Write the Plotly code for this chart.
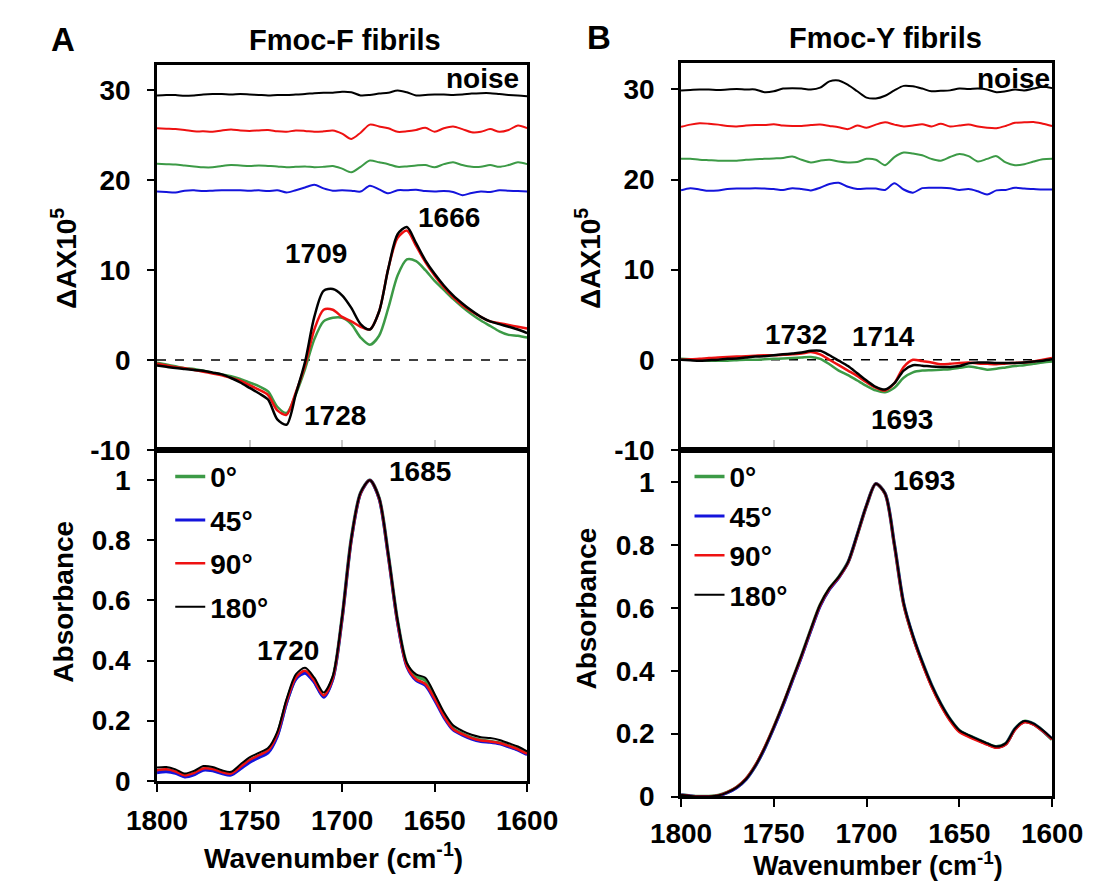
import plotly.graph_objects as go

# ---------------- data ----------------
wn = [1800, 1795, 1790, 1785, 1780, 1775, 1770, 1765, 1760, 1755, 1750,
      1745, 1740, 1735, 1730, 1725, 1720, 1715, 1710, 1705, 1700,
      1695, 1690, 1685, 1680, 1675, 1670, 1665, 1660, 1655, 1650,
      1645, 1640, 1635, 1630, 1625, 1620, 1615, 1610, 1605, 1600]

angles = ["0°", "45°", "90°", "180°"]
colors = ["#3c9a46", "#1414dc", "#ee1111", "#000000"]

# ---- Fmoc-F VCD (ΔA x 10^5) ----
F_vcd_0 = [-0.3, -0.5, -0.7, -0.9, -1.0, -1.2, -1.4, -1.6, -1.8, -2.1, -2.5,
           -2.9, -3.5, -5.2, -5.9, -3.8, -1.0, 2.3, 4.3, 4.7, 4.7,
           4.0, 2.5, 1.7, 2.7, 5.8, 9.4, 11.2, 11.0, 10.0, 8.8,
           7.8, 6.8, 5.9, 5.1, 4.4, 3.8, 3.2, 2.8, 2.7, 2.5]
F_vcd_90 = [-0.4, -0.6, -0.8, -0.9, -1.1, -1.3, -1.5, -1.7, -2.0, -2.3, -2.8,
            -3.3, -3.9, -5.6, -6.1, -3.6, -0.6, 3.4, 5.6, 5.6, 4.8,
            4.3, 3.7, 3.4, 5.4, 10.2, 13.6, 14.4, 12.7, 10.9, 9.4,
            8.1, 7.0, 6.1, 5.4, 4.8, 4.3, 4.1, 3.9, 3.7, 3.5]
F_vcd_180 = [-0.6, -0.75, -0.9, -1.0, -1.1, -1.2, -1.4, -1.6, -2.0, -2.5, -3.1,
             -3.7, -4.4, -6.6, -7.2, -3.8, -0.2, 4.8, 7.7, 7.9, 7.2,
             5.8, 4.0, 3.4, 5.4, 10.2, 14.0, 14.8, 13.0, 11.1, 9.6,
             8.3, 7.2, 6.3, 5.5, 4.8, 4.3, 4.0, 3.7, 3.4, 3.0]

F_noise_45 = [18.75, 18.7, 18.65, 18.85, 18.9, 18.8, 18.85, 18.9, 18.9, 18.9, 18.85,
              18.9, 18.8, 18.9, 18.65, 18.9, 19.2, 19.5, 19.1, 18.85, 18.9,
              18.85, 18.75, 19.4, 19.0, 18.55, 18.9, 18.9, 18.95, 18.8, 18.75,
              18.8, 18.7, 18.35, 18.6, 18.75, 18.7, 18.9, 18.85, 18.8, 18.75]
F_noise_0 = [21.85, 21.8, 21.75, 21.65, 21.55, 21.45, 21.45, 21.6, 21.7, 21.65, 21.6,
             21.65, 21.6, 21.55, 21.45, 21.5, 21.55, 21.45, 21.5, 21.6, 21.3,
             20.9, 21.5, 22.2, 22.0, 21.8, 21.5, 21.55, 21.65, 21.7, 21.45,
             21.8, 22.0, 21.7, 21.5, 21.5, 21.7, 21.5, 21.7, 22.0, 21.8]
F_noise_90 = [25.8, 25.75, 25.7, 25.6, 25.45, 25.45, 25.4, 25.55, 25.65, 25.55, 25.5,
              25.55, 25.6, 25.45, 25.4, 25.55, 25.5, 25.4, 25.45, 25.55, 25.2,
              24.6, 25.3, 26.2, 26.0, 25.8, 25.4, 25.45, 25.6, 25.85, 25.4,
              25.8, 26.0, 25.7, 25.35, 25.4, 25.7, 25.4, 25.6, 26.1, 25.8]
F_noise_180 = [29.45, 29.5, 29.5, 29.4, 29.45, 29.55, 29.6, 29.6, 29.55, 29.6, 29.55,
               29.5, 29.45, 29.5, 29.5, 29.55, 29.6, 29.7, 29.75, 29.75, 29.85,
               29.8, 29.45, 29.5, 29.65, 29.75, 30.0, 29.8, 29.45, 29.5, 29.55,
               29.55, 29.5, 29.55, 29.65, 29.7, 29.7, 29.6, 29.5, 29.45, 29.35]

# ---- Fmoc-F absorbance ----
F_abs_180 = [0.044, 0.046, 0.038, 0.024, 0.033, 0.049, 0.046, 0.035, 0.030, 0.054, 0.078,
             0.093, 0.109, 0.163, 0.272, 0.354, 0.376, 0.343, 0.294, 0.349, 0.545,
             0.806, 0.959, 1.000, 0.942, 0.752, 0.534, 0.392, 0.354, 0.343, 0.289,
             0.229, 0.185, 0.166, 0.153, 0.145, 0.142, 0.136, 0.125, 0.114, 0.098]
F_abs_90 = [0.035, 0.038, 0.031, 0.018, 0.026, 0.041, 0.039, 0.029, 0.024, 0.046, 0.069,
            0.085, 0.101, 0.156, 0.264, 0.344, 0.366, 0.333, 0.284, 0.342, 0.540,
            0.803, 0.957, 1.000, 0.940, 0.748, 0.527, 0.382, 0.338, 0.322, 0.273,
            0.215, 0.172, 0.155, 0.142, 0.134, 0.131, 0.126, 0.116, 0.105, 0.090]
F_abs_0 = [0.031, 0.034, 0.028, 0.016, 0.023, 0.038, 0.036, 0.027, 0.022, 0.043, 0.066,
           0.082, 0.098, 0.153, 0.262, 0.341, 0.362, 0.331, 0.282, 0.341, 0.541,
           0.805, 0.958, 1.000, 0.941, 0.750, 0.530, 0.388, 0.348, 0.335, 0.280,
           0.218, 0.174, 0.156, 0.143, 0.135, 0.131, 0.126, 0.116, 0.105, 0.090]
F_abs_45 = [0.027, 0.030, 0.025, 0.013, 0.020, 0.035, 0.033, 0.024, 0.019, 0.039, 0.061,
            0.077, 0.093, 0.148, 0.258, 0.338, 0.358, 0.327, 0.278, 0.338, 0.538,
            0.802, 0.956, 1.000, 0.939, 0.747, 0.526, 0.380, 0.334, 0.317, 0.268,
            0.211, 0.169, 0.152, 0.139, 0.131, 0.128, 0.123, 0.113, 0.102, 0.087]

# ---- Fmoc-Y VCD ----
Y_vcd_0 = [0.1, 0.05, 0.0, -0.1, -0.1, -0.1, -0.05, 0.0, 0.0, 0.05, 0.1,
           0.15, 0.2, 0.25, 0.3, 0.1, -0.5, -1.2, -1.7, -2.3, -2.9,
           -3.4, -3.6, -3.1, -2.0, -1.4, -1.2, -1.15, -1.1, -1.05, -0.9,
           -0.75, -0.9, -1.1, -1.0, -0.85, -0.7, -0.6, -0.45, -0.3, -0.2]
Y_vcd_90 = [0.0, 0.05, 0.1, 0.2, 0.25, 0.3, 0.35, 0.4, 0.45, 0.5, 0.5,
            0.55, 0.6, 0.7, 0.85, 0.6, 0.0, -0.6, -1.2, -1.8, -2.5,
            -3.1, -3.4, -2.6, -0.8, 0.0, -0.15, -0.3, -0.5, -0.45, -0.35,
            -0.3, -0.4, -0.45, -0.5, -0.4, -0.35, -0.3, -0.2, 0.0, 0.2]
Y_vcd_180 = [0.0, -0.05, -0.1, -0.05, 0.0, 0.1, 0.15, 0.25, 0.35, 0.4, 0.5,
             0.6, 0.7, 0.8, 1.0, 1.0, 0.5, -0.1, -0.7, -1.5, -2.3,
             -3.0, -3.3, -2.6, -1.2, -0.6, -0.65, -0.75, -0.8, -0.8, -0.7,
             -0.4, -0.3, -0.3, -0.35, -0.35, -0.35, -0.3, -0.2, -0.1, 0.05]

Y_noise_45 = [18.8, 19.05, 18.9, 18.75, 18.8, 18.95, 19.0, 19.0, 19.05, 19.0, 18.95,
              18.85, 19.05, 18.95, 18.8, 19.1, 19.5, 19.65, 19.2, 18.95, 19.0,
              19.0, 18.85, 19.6, 18.9, 18.55, 19.05, 19.1, 19.1, 19.05, 18.85,
              18.95, 18.7, 18.35, 18.8, 18.85, 19.1, 19.0, 18.95, 18.9, 18.9]
Y_noise_0 = [22.3, 22.3, 22.2, 22.15, 22.1, 22.1, 22.1, 22.2, 22.25, 22.3, 22.35,
             22.4, 22.55, 22.2, 21.9, 22.1, 22.2, 22.0, 21.9, 21.95, 22.3,
             22.2, 21.6, 22.5, 23.0, 22.9, 22.7, 22.3, 22.1, 22.5, 22.85,
             22.6, 22.0, 22.3, 22.6, 21.9, 21.6, 21.7, 22.0, 22.25, 22.3]
Y_noise_90 = [25.85, 26.1, 26.25, 26.2, 26.1, 25.95, 25.9, 26.0, 26.05, 26.05, 26.15,
              26.0, 25.95, 25.95, 26.05, 26.1, 25.95, 25.8, 25.6, 26.0, 25.75,
              26.1, 26.35, 26.1, 25.9, 26.0, 26.15, 25.9, 26.2, 25.9, 26.0,
              26.1, 25.9, 25.75, 25.7, 25.95, 26.3, 26.35, 26.4, 26.2, 25.95]
Y_noise_180 = [29.9, 29.95, 30.0, 30.0, 29.95, 30.0, 30.05, 30.0, 30.0, 29.7, 29.8,
               30.1, 30.15, 30.1, 30.0, 30.2, 30.9, 31.0, 30.5, 29.8, 29.1,
               29.0, 29.3, 29.9, 30.4, 30.35, 30.1, 29.8, 29.85, 29.9, 30.1,
               30.05, 30.1, 30.0, 29.7, 29.8, 30.0, 29.9, 30.1, 30.3, 30.15]

# ---- Fmoc-Y absorbance ----
Y_abs_180 = [0.005, 0.002, 0.000, 0.000, 0.003, 0.013, 0.029, 0.055, 0.097, 0.154, 0.221,
             0.294, 0.372, 0.450, 0.533, 0.611, 0.663, 0.699, 0.746, 0.834, 0.927,
             0.995, 0.964, 0.803, 0.616, 0.512, 0.429, 0.356, 0.296, 0.247, 0.211,
             0.195, 0.182, 0.169, 0.159, 0.169, 0.216, 0.240, 0.232, 0.211, 0.185]
Y_abs_90 = [0.005, 0.002, 0.000, 0.000, 0.003, 0.014, 0.030, 0.057, 0.099, 0.156, 0.222,
            0.294, 0.371, 0.448, 0.531, 0.609, 0.661, 0.697, 0.744, 0.832, 0.926,
            0.995, 0.963, 0.800, 0.611, 0.506, 0.423, 0.350, 0.290, 0.241, 0.205,
            0.190, 0.177, 0.165, 0.155, 0.165, 0.212, 0.236, 0.229, 0.208, 0.182]
Y_abs_45 = [0.005, 0.002, 0.000, 0.000, 0.002, 0.012, 0.028, 0.054, 0.096, 0.152, 0.218,
            0.290, 0.368, 0.445, 0.528, 0.606, 0.659, 0.696, 0.744, 0.833, 0.926,
            0.995, 0.964, 0.802, 0.614, 0.510, 0.427, 0.354, 0.294, 0.245, 0.209,
            0.193, 0.180, 0.167, 0.157, 0.167, 0.214, 0.238, 0.230, 0.209, 0.183]
Y_abs_0 = [0.005, 0.002, 0.000, 0.000, 0.003, 0.013, 0.029, 0.055, 0.097, 0.153, 0.220,
           0.292, 0.370, 0.448, 0.531, 0.609, 0.661, 0.698, 0.745, 0.833, 0.926,
           0.995, 0.964, 0.802, 0.614, 0.510, 0.428, 0.355, 0.295, 0.246, 0.210,
           0.194, 0.181, 0.168, 0.158, 0.168, 0.215, 0.239, 0.231, 0.209, 0.181]

# peak labels: (text, x, y)
F_top_labels = [("1666", 1642, 15.9), ("1709", 1714, 11.9), ("1728", 1704, -6.2)]
F_bot_labels = [("1685", 1658, 1.03), ("1720", 1729, 0.435)]
Y_top_labels = [("1732", 1738, 2.8), ("1714", 1691, 2.6), ("1693", 1681, -6.6)]
Y_bot_labels = [("1693", 1669, 1.005)]

# ---------------- figure ----------------
W, H = 1110, 886
FONT = "Liberation Sans, Arial, sans-serif"
FS = 28

def px_x(p):
    return p / W

def px_y(p):
    return 1 - p / H

fig = go.Figure()

def add_line(x, y, color, width, xa, ya, name=None, legend=None, show=False, group=None):
    fig.add_trace(go.Scatter(
        x=x, y=y, mode="lines", name=name,
        line=dict(color=color, width=width, shape="spline", smoothing=0.8),
        xaxis=xa, yaxis=ya, showlegend=show, legendgroup=group,
        legend=legend if legend else "legend", hoverinfo="skip"))

# Fmoc-F top (x, y)
for ys, c in zip([F_noise_45, F_noise_0, F_noise_90, F_noise_180],
                 [colors[1], colors[0], colors[2], colors[3]]):
    add_line(wn, ys, c, 2, "x", "y")
for ys, c in zip([F_vcd_0, F_vcd_90, F_vcd_180], [colors[0], colors[2], colors[3]]):
    add_line(wn, ys, c, 2.5, "x", "y")

# Fmoc-F bottom (x2, y2)
lw = [3.5, 3, 2.5, 2]
for ys, c, n, w in zip([F_abs_0, F_abs_45, F_abs_90, F_abs_180], colors, angles, lw):
    add_line(wn, ys, c, w, "x2", "y2", name=n, legend="legend", show=True, group="F" + n)

# Fmoc-Y top (x3, y3)
for ys, c in zip([Y_noise_45, Y_noise_0, Y_noise_90, Y_noise_180],
                 [colors[1], colors[0], colors[2], colors[3]]):
    add_line(wn, ys, c, 2, "x3", "y3")
for ys, c in zip([Y_vcd_0, Y_vcd_90, Y_vcd_180], [colors[0], colors[2], colors[3]]):
    add_line(wn, ys, c, 2.5, "x3", "y3")

# Fmoc-Y bottom (x4, y4)
for ys, c, n, w in zip([Y_abs_0, Y_abs_45, Y_abs_90, Y_abs_180], colors, angles, lw):
    add_line(wn, ys, c, w, "x4", "y4", name=n, legend="legend2", show=True, group="Y" + n)

# zero dashed lines
for xa, ya in [("x", "y"), ("x3", "y3")]:
    fig.add_shape(type="line", xref=f"{xa} domain", yref=ya, x0=0, x1=1, y0=0, y1=0,
                  line=dict(color="black", width=1.5, dash="dash"), layer="below")

tick_font = dict(family=FONT, size=FS, color="black", weight="bold")

xl = [px_x(125), px_x(517)]
xr = [px_x(680), px_x(1073)]
mid = px_y(450)

def xaxis(domain, anchor, top, standoff=7):
    d = dict(domain=domain, anchor=anchor, range=[1800, 1600], tickvals=[1800, 1750, 1700, 1650, 1600],
             showline=True, linecolor="black", linewidth=2.5, mirror=True,
             showgrid=False, zeroline=False, tickfont=tick_font)
    if top:
        d.update(showticklabels=False, ticks="inside", ticklen=10, tickcolor="#c8c8c8", tickwidth=1.5)
    else:
        d.update(ticks="outside", ticklen=8, tickcolor="black", tickwidth=2, ticklabelstandoff=standoff)
    return d

def yaxis(domain, anchor, rng, tv, tt):
    return dict(domain=domain, anchor=anchor, range=rng, tickvals=tv, ticktext=tt,
                showline=True, linecolor="black", linewidth=2.5, mirror=True,
                showgrid=False, zeroline=False, ticks="outside", ticklen=7,
                tickcolor="black", tickwidth=2, tickfont=tick_font, ticklabelstandoff=11)

top_tv = [-10, 0, 10, 20, 30]
top_tt = ["-10", "0", "10", "20", "30"]
bot_tv = [0, 0.2, 0.4, 0.6, 0.8, 1.0]
bot_tt = ["0", "0.2", "0.4", "0.6", "0.8", "1"]

legend_font = dict(family=FONT, size=FS, weight="bold", color="black")

fig.update_layout(
    width=W, height=H, margin=dict(l=0, r=0, t=0, b=0),
    paper_bgcolor="white", plot_bgcolor="white",
    font=dict(family=FONT, size=FS, color="black", weight="bold"),
    xaxis=xaxis(xl, "y", True),
    yaxis=yaxis([mid, px_y(58)], "x", [-10, 32.84], top_tv, top_tt),
    xaxis2=xaxis(xl, "y2", False, 5),
    yaxis2=yaxis([px_y(787), mid], "x2", [0, 1.101], bot_tv, bot_tt),
    xaxis3=xaxis(xr, "y3", True),
    yaxis3=yaxis([mid, px_y(56)], "x3", [-10, 32.94], top_tv, top_tt),
    xaxis4=xaxis(xr, "y4", False, 2),
    yaxis4=yaxis([px_y(803), mid], "x4", [0, 1.103], bot_tv, bot_tt),
    legend=dict(x=px_x(139), y=px_y(452), xanchor="left", yanchor="top",
                bgcolor="rgba(0,0,0,0)", font=legend_font,
                traceorder="grouped", tracegroupgap=4, itemwidth=30),
    legend2=dict(x=px_x(689), y=px_y(452), xanchor="left", yanchor="top",
                 bgcolor="rgba(0,0,0,0)", font=legend_font,
                 traceorder="grouped", tracegroupgap=0, itemwidth=30),
)

ann = []
def label(text, x, y, xref, yref, size=FS, xanchor="center", yanchor="middle", textangle=0):
    ann.append(dict(text=text, x=x, y=y, xref=xref, yref=yref, showarrow=False,
                    xanchor=xanchor, yanchor=yanchor, textangle=textangle,
                    font=dict(family=FONT, size=size, color="black", weight="bold")))

for t, x, y in F_top_labels:
    label(t, x, y, "x", "y")
for t, x, y in F_bot_labels:
    label(t, x, y, "x2", "y2")
for t, x, y in Y_top_labels:
    label(t, x, y, "x3", "y3")
for t, x, y in Y_bot_labels:
    label(t, x, y, "x4", "y4")

# noise labels
label("noise", px_x(510), px_y(72), "paper", "paper", xanchor="right")
label("noise", px_x(1073), px_y(72), "paper", "paper", xanchor="right")

# titles and panel letters
label("Fmoc-F fibrils", px_x(324), px_y(33), "paper", "paper", size=29)
label("Fmoc-Y fibrils", px_x(897), px_y(31), "paper", "paper", size=29)
label("A", px_x(25), px_y(32), "paper", "paper", size=33)
label("B", px_x(593), px_y(30), "paper", "paper", size=33)

# axis titles
label("ΔAX10<sup>5</sup>", px_x(27), px_y(255), "paper", "paper", textangle=-90)
label("Absorbance", px_x(25), px_y(605), "paper", "paper", textangle=-90)
label("ΔAX10<sup>5</sup>", px_x(582), px_y(255), "paper", "paper", textangle=-90)
label("Absorbance", px_x(580), px_y(612), "paper", "paper", textangle=-90)
label("Wavenumber (cm<sup>-1</sup>)", px_x(312), px_y(864), "paper", "paper")
label("Wavenumber (cm<sup>-1</sup>)", px_x(889), px_y(872), "paper", "paper", size=27)

fig.update_layout(annotations=ann)

fig.write_html("out.html")
